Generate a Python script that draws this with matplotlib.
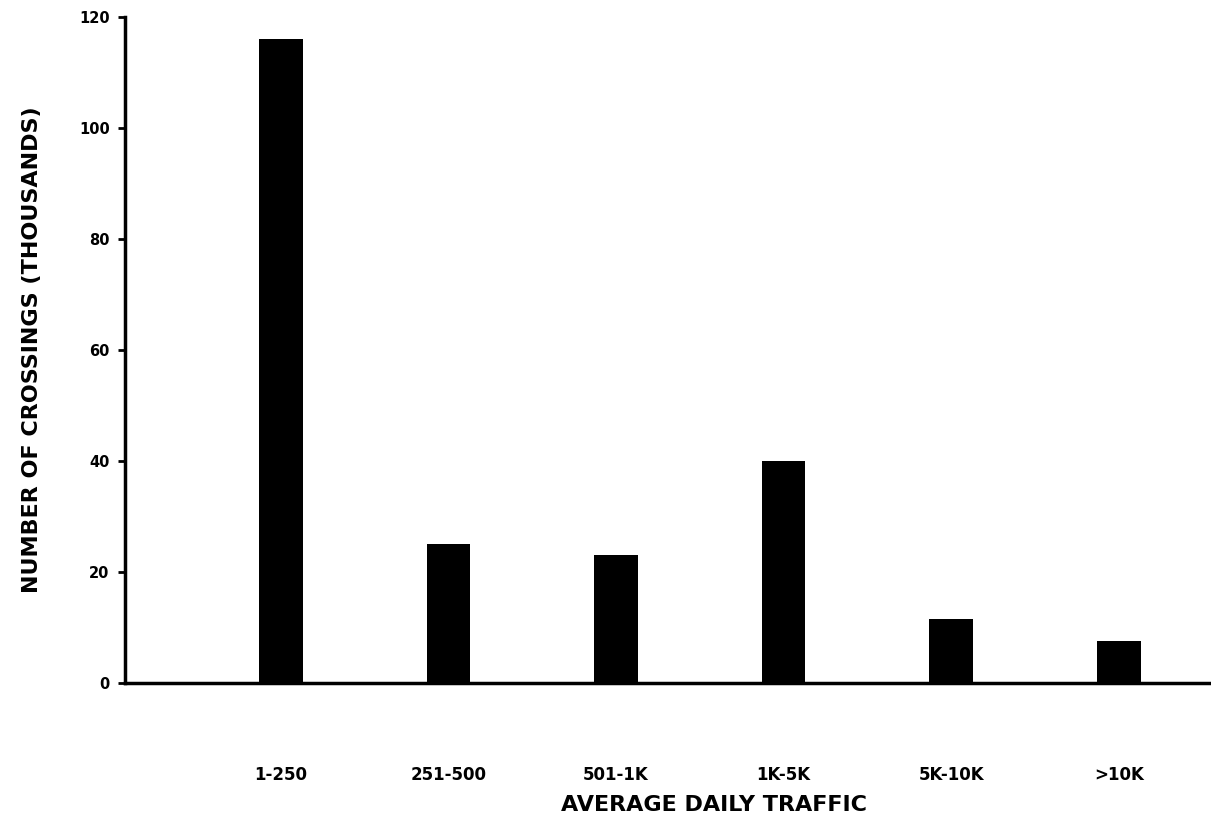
import matplotlib
matplotlib.use("Agg")
import matplotlib.pyplot as plt

# Crossings by average daily traffic (thousands)
categories = ["1-250", "251-500", "501-1K", "1K-5K", "5K-10K", ">10K"]
crossings = [116, 25, 23, 40, 11.5, 7.5]
y_ticks = [0, 20, 40, 60, 80, 100, 120]

plt.rcParams["font.family"] = ["DejaVu Sans"]
plt.rcParams["font.weight"] = "bold"

fig = plt.figure(figsize=(12.11, 8.23), dpi=100)
ax = fig.add_axes([0.1032, 0.170, 0.8968, 0.809])

x = list(range(len(categories)))
ax.bar(x, crossings, width=0.26, color="black")

ax.set_xlim(-0.93, 5.55)
ax.set_ylim(0, 120)
ax.set_yticks(y_ticks)
ax.set_yticklabels([str(v) for v in y_ticks], fontsize=10.5, fontweight="bold")
ax.set_xticks(x)
ax.set_xticklabels(categories, fontsize=12, fontweight="bold")

for side in ("top", "right"):
    ax.spines[side].set_visible(False)
for side in ("left", "bottom"):
    ax.spines[side].set_linewidth(2.5)

ax.tick_params(axis="y", direction="out", length=5, width=2, pad=6)
ax.tick_params(axis="x", length=0, pad=60)

ax.set_xlabel("AVERAGE DAILY TRAFFIC", fontsize=16, fontweight="bold", va="center")
ax.xaxis.set_label_coords(0.542, -0.183)
ax.set_ylabel("NUMBER OF CROSSINGS (THOUSANDS)", fontsize=16, fontweight="bold", va="center")
ax.yaxis.set_label_coords(-0.086, 0.5)

fig.savefig("out.png", dpi=100)
